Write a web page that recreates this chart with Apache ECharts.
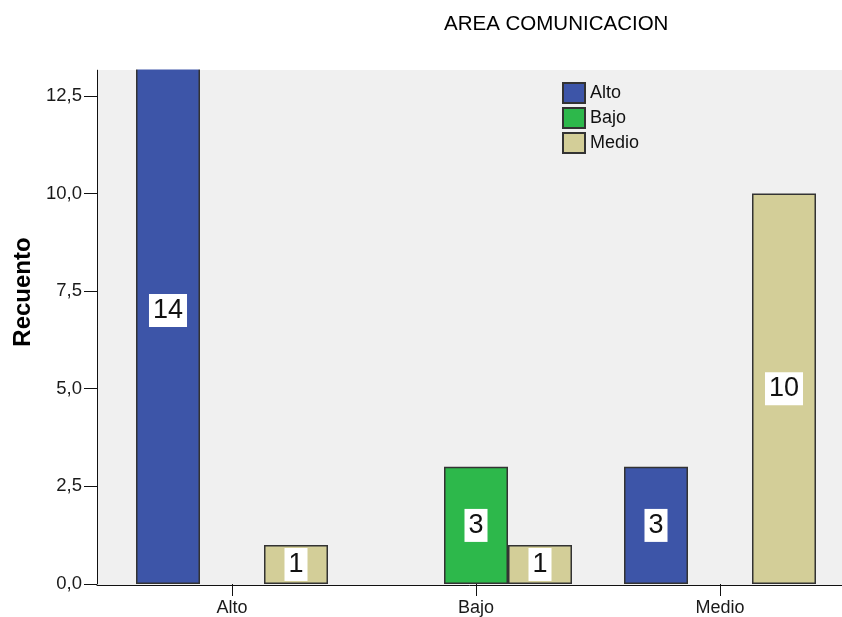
<!DOCTYPE html>
<html>
<head>
<meta charset="utf-8">
<script src="https://cdn.jsdelivr.net/npm/echarts@6/dist/echarts.min.js"></script>
<style>html,body{margin:0;padding:0;background:#fff}#c{width:842px;height:617px}</style>
</head>
<body>
<div id="c"></div>
<script>
const categories = ['Alto', 'Bajo', 'Medio'];
const seriesNames = ['Alto', 'Bajo', 'Medio'];
const altoValues = [14, 0, 3];
const bajoValues = [0, 3, 0];
const medioValues = [1, 1, 10];
const yTicks = [0, 2.5, 5, 7.5, 10, 12.5];
const yMax = 13.16;
const colors = ['#3d55a8', '#2db84b', '#d3ce98'];

const FONT = 'Liberation Sans, Arial, sans-serif';
const chart = echarts.init(document.getElementById('c'), null, {renderer: 'canvas'});

function mk(name, vals, color) {
  return {
    name: name,
    type: 'bar',
    xAxisIndex: 1,
    yAxisIndex: 1,
    data: vals.map(v => v === 0 ? null : v),
    barWidth: 64,
    barGap: '0%',
    clip: false,
    itemStyle: {color: color, borderColor: '#333', borderWidth: 1.5},
    label: {
      show: true,
      position: 'inside',
      backgroundColor: '#ffffff',
      color: '#111',
      fontFamily: FONT,
      fontSize: 27,
      lineHeight: 27,
      padding: [3, 4]
    },
    emphasis: {disabled: true}
  };
}

const option = {
  animation: false,
  title: {
    text: 'AREA COMUNICACION',
    left: 439,
    top: 9,
    z: 200,
    textStyle: {fontFamily: FONT, fontSize: 20.5, fontWeight: 'normal', color: '#000'}
  },
  legend: {
    data: seriesNames,
    orient: 'vertical',
    left: 562,
    top: 82,
    padding: 0,
    itemWidth: 22,
    itemHeight: 20,
    itemGap: 3,
    icon: 'rect',
    textStyle: {fontFamily: FONT, fontSize: 18, color: '#111'}
  },
  graphic: [{
    type: 'rect',
    z: 100,
    silent: true,
    shape: {x: 0, y: 0, width: 842, height: 69.5},
    style: {fill: '#ffffff'}
  }],
  grid: [
    {left: 97, right: 0, top: 70, bottom: 32, show: true, backgroundColor: '#f0f0f0', borderWidth: 0},
    {left: 110, right: 0, top: 70, bottom: 32}
  ],
  xAxis: [
    {gridIndex: 0, type: 'value', min: 0, max: 1, axisLine: {show: true, onZero: false, lineStyle: {color: '#111', width: 1}},
     axisTick: {show: false}, axisLabel: {show: false}, splitLine: {show: false}},
    {gridIndex: 1, type: 'category', data: categories,
     axisLine: {show: false},
     axisTick: {show: true, alignWithLabel: true, length: 12, lineStyle: {color: '#111'}},
     axisLabel: {fontFamily: FONT, fontSize: 18, color: '#1a1a1a', margin: 15},
     splitLine: {show: false}}
  ],
  yAxis: [
    {gridIndex: 0, type: 'value', show: false, min: 0, max: yMax},
    {gridIndex: 1, type: 'value', min: 0, max: yMax, offset: 13,
     name: 'Recuento', nameLocation: 'middle', nameRotate: 90, nameGap: 60,
     nameTextStyle: {fontFamily: FONT, fontSize: 24, fontWeight: 'bold', color: '#000', padding: [0, 0, 0, 70]},
     axisLine: {show: true, lineStyle: {color: '#111', width: 1}},
     axisTick: {show: true, length: 13, lineStyle: {color: '#111'}, customValues: yTicks},
     axisLabel: {fontFamily: FONT, fontSize: 18.5, color: '#1a1a1a', margin: 15, customValues: yTicks,
       formatter: v => v.toFixed(1).replace('.', ',')},
     splitLine: {show: false}}
  ],
  series: [
    mk(seriesNames[0], altoValues, colors[0]),
    mk(seriesNames[1], bajoValues, colors[1]),
    mk(seriesNames[2], medioValues, colors[2])
  ]
};
chart.setOption(option);
</script>
</body>
</html>
